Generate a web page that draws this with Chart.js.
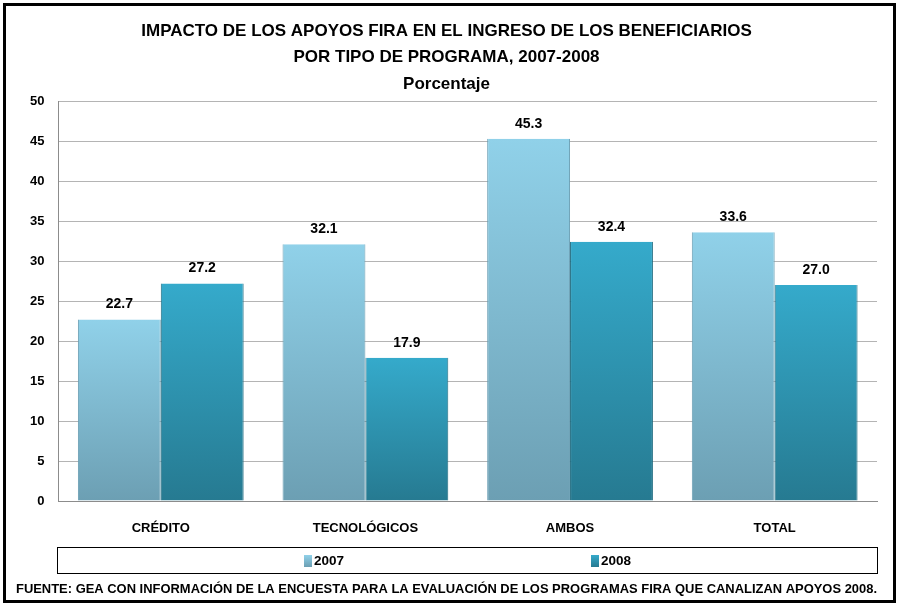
<!DOCTYPE html>
<html>
<head>
<meta charset="utf-8">
<script src="https://cdn.jsdelivr.net/npm/chart.js@4.4.0/dist/chart.umd.min.js"></script>
<style>
  html, body { margin: 0; padding: 0; background: #fff; }
  #wrap { width: 899px; height: 607px; }
</style>
</head>
<body>
<div id="wrap"><canvas id="c" width="899" height="607"></canvas></div>
<script>
// Datos del gráfico
const categorias = ['CRÉDITO', 'TECNOLÓGICOS', 'AMBOS', 'TOTAL'];
const serie2007 = [22.7, 32.1, 45.3, 33.6];
const serie2008 = [27.2, 17.9, 32.4, 27.0];
const etiquetasY = [0, 5, 10, 15, 20, 25, 30, 35, 40, 45, 50];
const anios = ['2007', '2008'];

const FONT = '"Liberation Sans", Arial, sans-serif';
const colores = [
  { arriba: '#90d1e9', abajo: '#6c9fb3', borde: '#6a9fb4' },
  { arriba: '#35aacb', abajo: '#267a91', borde: '#1e6a7f' }
];

// Degradado vertical para cada barra (de su tope a la base)
function degradado(ctx, i) {
  const chart = ctx.chart;
  const area = chart.chartArea;
  if (!area || ctx.type !== 'data') return colores[i].arriba;
  const y = chart.scales.y;
  const top = y.getPixelForValue(ctx.raw);
  const g = chart.ctx.createLinearGradient(0, top, 0, area.bottom);
  g.addColorStop(0, colores[i].arriba);
  g.addColorStop(1, colores[i].abajo);
  return g;
}

// Marco negro exterior y leyenda en caja
const marco = {
  id: 'marco',
  beforeDraw(chart) {
    const c = chart.ctx;
    c.save();
    c.fillStyle = '#fff';
    c.fillRect(0, 0, chart.width, chart.height);
    c.restore();
  },
  afterDraw(chart) {
    const c = chart.ctx;
    c.save();
    c.strokeStyle = '#000';
    c.lineWidth = 3;
    c.strokeRect(4.5, 4.5, chart.width - 9, chart.height - 10);

    // leyenda
    c.lineWidth = 1;
    c.strokeRect(57.5, 547.5, 820, 26);
    const posX = [304, 591];
    c.font = 'bold 13.5px ' + FONT;
    c.textBaseline = 'middle';
    c.textAlign = 'left';
    anios.forEach((a, i) => {
      const g = c.createLinearGradient(0, 555, 0, 567);
      g.addColorStop(0, colores[i].arriba);
      g.addColorStop(1, colores[i].abajo);
      c.fillStyle = g;
      c.fillRect(posX[i], 555, 8, 12);
      c.fillStyle = '#000';
      c.fillText(a, posX[i] + 10, 561);
    });
    c.restore();
  }
};

// Etiquetas de valor encima de las barras
const valores = {
  id: 'valores',
  afterDatasetsDraw(chart) {
    const c = chart.ctx;
    c.save();
    c.font = 'bold 14px ' + FONT;
    c.fillStyle = '#000';
    c.textAlign = 'center';
    c.textBaseline = 'middle';
    chart.data.datasets.forEach((ds, i) => {
      chart.getDatasetMeta(i).data.forEach((bar, j) => {
        c.fillText(ds.data[j].toFixed(1), bar.x, bar.y - 15);
      });
    });
    c.restore();
  }
};

new Chart(document.getElementById('c'), {
  type: 'bar',
  data: {
    labels: categorias,
    datasets: [{
      label: anios[0],
      data: serie2007,
      backgroundColor: ctx => degradado(ctx, 0),
      borderColor: colores[0].borde,
      borderWidth: { left: 1, right: 1, top: 0, bottom: 0 }
    }, {
      label: anios[1],
      data: serie2008,
      backgroundColor: ctx => degradado(ctx, 1),
      borderColor: colores[1].borde,
      borderWidth: { left: 1, right: 1, top: 0, bottom: 0 }
    }]
  },
  options: {
    responsive: false,
    animation: false,
    devicePixelRatio: 1,
    layout: { padding: { left: 16, right: 22, top: 8, bottom: 8 } },
    datasets: { bar: { categoryPercentage: 0.81, barPercentage: 1 } },
    plugins: {
      title: {
        display: true,
        text: ['IMPACTO DE LOS APOYOS FIRA EN EL INGRESO DE LOS BENEFICIARIOS', 'POR TIPO DE PROGRAMA, 2007-2008', 'Porcentaje'],
        color: '#000',
        font: { family: FONT, size: 17, weight: 'bold', lineHeight: 1.55 },
        padding: { top: 10, bottom: 4 }
      },
      subtitle: {
        display: true,
        position: 'bottom',
        text: 'FUENTE: GEA CON INFORMACIÓN DE LA ENCUESTA PARA LA EVALUACIÓN DE LOS PROGRAMAS FIRA QUE CANALIZAN APOYOS 2008.',
        color: '#000',
        font: { family: FONT, size: 13.3, weight: 'bold' },
        padding: { top: 8, bottom: 2 }
      },
      legend: { display: false },
      tooltip: { enabled: false }
    },
    scales: {
      x: {
        grid: { display: false },
        border: { color: '#8c8c8c' },
        afterFit: axis => { axis.height = 72; },
        ticks: { color: '#000', font: { family: FONT, size: 13, weight: 'bold' }, padding: 12 }
      },
      y: {
        min: 0,
        max: 50,
        afterBuildTicks: axis => { axis.ticks = etiquetasY.map(v => ({ value: v })); },
        grid: { color: '#b4b4b4', tickLength: 0 },
        border: { color: '#8c8c8c' },
        ticks: { color: '#000', font: { family: FONT, size: 13, weight: 'bold' }, padding: 14 }
      }
    }
  },
  plugins: [marco, valores]
});
</script>
</body>
</html>
